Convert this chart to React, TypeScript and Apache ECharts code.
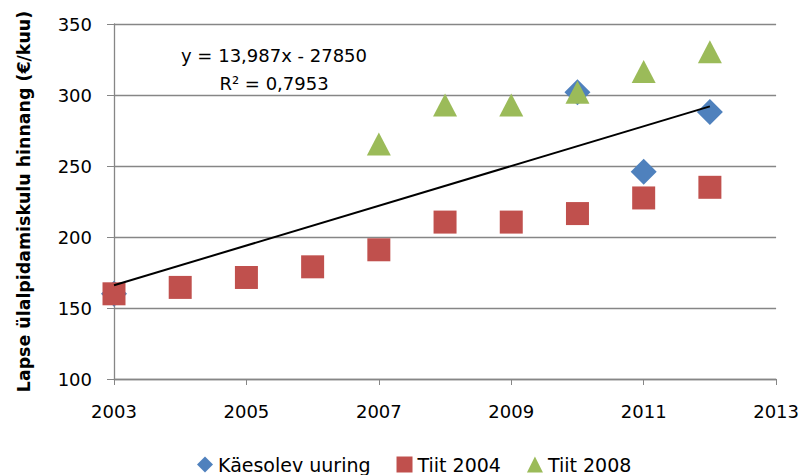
import React, { useEffect, useRef } from "react";
import * as echarts from "echarts";

const BASE_YEAR = 2003;
const kaesolevYears = [2003, 2010, 2011, 2012];
const kaesolevValues = [160, 302, 246, 288];
const tiit2004Years = [2003, 2004, 2005, 2006, 2007, 2008, 2009, 2010, 2011, 2012];
const tiit2004Values = [160, 164.5, 171.5, 179, 191, 210.5, 210.5, 216.5, 227.5, 235];
const tiit2008Years = [2007, 2008, 2009, 2010, 2011, 2012];
const tiit2008Values = [265.5, 293, 293, 302, 316.5, 330.5];
const trendYears = [2003, 2012];
const trendValues = [166, 292];
const seriesNames = ["Käesolev uuring", "Tiit 2004", "Tiit 2008"];
const equationText = "y = 13,987x - 27850";
const r2Text = "R² = 0,7953";
const yAxisTitle = "Lapse ülalpidamiskulu hinnang (€/kuu)";

const FONT = "DejaVu Sans";

function pairs(xs: number[], ys: number[]) {
  return xs.map((x, i) => [x - BASE_YEAR, ys[i]]);
}

export default function App() {
  const ref = useRef<HTMLDivElement>(null);
  useEffect(() => {
    document.body.style.margin = "0";
    const chart = echarts.init(ref.current!, null, { renderer: "svg" });
    chart.setOption({
      animation: false,
      backgroundColor: "#ffffff",
      textStyle: { fontFamily: FONT, color: "#000" },
      grid: { left: 114, right: 24, top: 24, bottom: 96 },
      xAxis: {
        type: "value",
        min: 0,
        max: 10,
        interval: 2,
        splitLine: { show: false },
        axisLine: { lineStyle: { color: "#868686", width: 1.3 } },
        axisTick: { show: true, length: 6, lineStyle: { color: "#868686" } },
        axisLabel: {
          fontFamily: FONT,
          fontSize: 18,
          color: "#000",
          margin: 23,
          formatter: (v: number) => String(v + BASE_YEAR),
        },
      },
      yAxis: {
        type: "value",
        min: 100,
        max: 350,
        interval: 50,
        name: yAxisTitle,
        nameLocation: "middle",
        nameGap: 82,
        nameTextStyle: { fontFamily: FONT, fontWeight: "bold", fontSize: 17.4, color: "#000" },
        axisLine: { show: true, lineStyle: { color: "#868686", width: 1.3 } },
        axisTick: { show: true, length: 7, lineStyle: { color: "#868686" } },
        splitLine: { show: true, lineStyle: { color: "#868686", width: 1.3 } },
        axisLabel: { fontFamily: FONT, fontSize: 18, color: "#000", margin: 22 },
      },
      legend: {
        bottom: -4,
        left: 192,
        itemWidth: 16,
        itemHeight: 16,
        itemGap: 26,
        textStyle: { fontFamily: FONT, fontSize: 19, color: "#000" },
        data: seriesNames,
      },
      series: [
        {
          name: seriesNames[0],
          type: "scatter",
          symbol: "diamond",
          symbolSize: 26,
          itemStyle: { color: "#4F81BD", opacity: 1 },
          data: pairs(kaesolevYears, kaesolevValues),
          z: 2,
        },
        {
          name: seriesNames[1],
          type: "scatter",
          symbol: "rect",
          symbolSize: 23,
          itemStyle: { color: "#C0504D", opacity: 1 },
          data: pairs(tiit2004Years, tiit2004Values),
          z: 3,
        },
        {
          name: seriesNames[2],
          type: "scatter",
          symbol: "triangle",
          symbolSize: [24, 23],
          itemStyle: { color: "#9BBB59", opacity: 1 },
          data: pairs(tiit2008Years, tiit2008Values),
          z: 4,
        },
        {
          name: "trend",
          type: "line",
          showSymbol: false,
          symbol: "none",
          lineStyle: { color: "#000", width: 2 },
          data: pairs(trendYears, trendValues),
          z: 5,
          silent: true,
        },
      ],
      graphic: [
        {
          type: "text",
          left: 274 - 100,
          top: 41,
          style: {
            text: equationText + "\n" + r2Text,
            font: `18px "${FONT}"`,
            fill: "#000",
            textAlign: "center",
            lineHeight: 28,
            width: 200,
          },
        },
      ],
    });
    return () => chart.dispose();
  }, []);
  return <div ref={ref} style={{ width: 802, height: 475 }} />;
}
